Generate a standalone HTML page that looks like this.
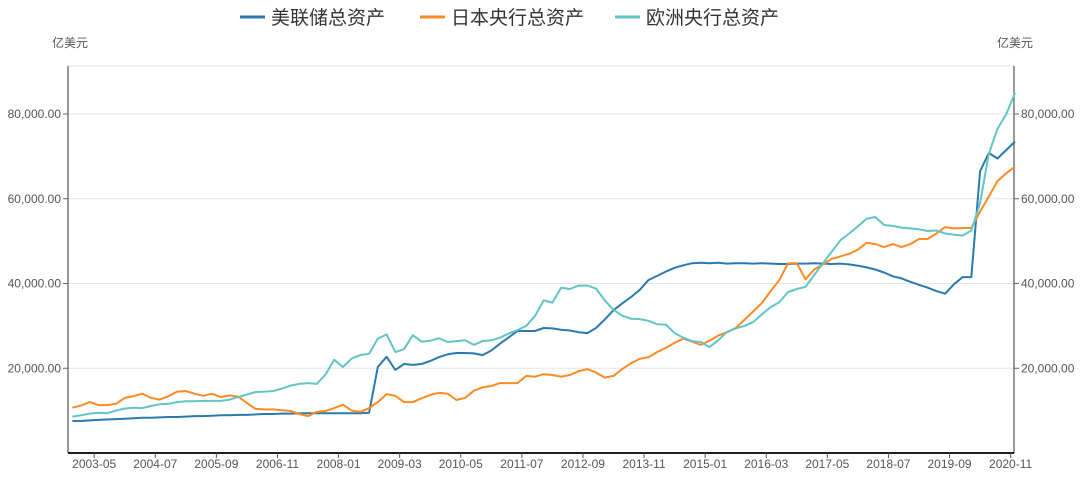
<!DOCTYPE html>
<html><head><meta charset="utf-8"><style>
body{margin:0;background:#fff;font-family:"Liberation Sans","Noto Sans CJK SC",sans-serif;}
svg text{font-family:"Liberation Sans","Noto Sans CJK SC",sans-serif;}
</style></head><body>
<svg id="chart" width="1080" height="476" viewBox="0 0 1080 476" xmlns="http://www.w3.org/2000/svg">
<g id="legend"></g>
<text x="52" y="47" font-size="12" fill="#555">亿美元</text>
<text x="997" y="47" font-size="12" fill="#555">亿美元</text>
<g id="grid"></g>
<g id="axes"></g>
<g id="series"></g>
</svg>
<script>
const categories = [];
for (let y = 2002, m = 12; categories.length < 109; ) {
  categories.push(y + '-' + String(m).padStart(2, '0'));
  m += 2; if (m > 12) { m -= 12; y++; }
}
const seriesNames = ['美联储总资产', '日本央行总资产', '欧洲央行总资产'];
const seriesColors = ['#2a7aae', '#fb8b24', '#62c4c6'];
const fedValues = [7550,7550,7700,7800,7900,8000,8100,8200,8300,8300,8400,8500,8500,8600,8700,8700,8800,8900,8900,9000,9000,9100,9200,9200,9300,9300,9400,9400,9400,9400,9400,9400,9400,9400,
9500,20300,22700,19600,21000,20800,21000,21700,22600,23300,23600,23600,23500,23100,24200,25800,27300,28800,28800,28800,29500,29400,29100,28900,28500,28300,29500,31500,33700,35300,36800,38500,40800,41800,42800,43700,44300,44800,
44900,44800,44900,44700,44800,44800,44700,44800,44700,44600,44600,44700,44700,44800,44700,44600,
44700,44500,44200,43800,43300,42600,41700,41200,40400,39700,39000,38200,37600,39800,41500,41500,66500,70800,69500,71500,73500];
const bojValues = [10700,11200,12000,11300,11300,11600,13000,13400,14000,13000,12600,13400,14500,14600,14000,13500,14000,13200,13600,13300,11800,10400,10300,10300,10100,9900,9200,8700,9700,9900,10600,11400,10000,9700,
10600,12000,13900,13500,12000,12000,12900,13700,14200,14000,12500,13000,14700,15500,15800,16500,16500,16500,18200,18000,18600,18400,18000,18400,19300,19800,19000,17800,18200,19800,21200,22200,22600,23800,24800,26000,27000,26300,
25500,26500,27700,28500,29500,31400,33400,35400,38200,40800,44800,44800,41000,43300,44500,45800,
46400,47000,48000,49600,49300,48600,49300,48600,49300,50500,50500,51800,53300,53000,53100,53100,57000,60500,64200,66000,67600];
const ecbValues = [8600,8900,9300,9500,9400,10000,10500,10700,10600,11100,11500,11600,12000,12200,12200,12300,12300,12300,12600,13200,13800,14400,14500,14600,15200,15900,16300,16500,16300,18500,22000,20300,22300,23100,
23400,27000,28000,23800,24500,27800,26300,26500,27100,26200,26400,26600,25500,26400,26600,27200,28200,29000,30000,32300,36000,35500,39000,38700,39500,39500,38800,36000,33800,32400,31700,31600,31200,30400,30300,28300,27200,26400,
26200,25000,26600,28600,29400,30000,30900,32700,34400,35600,38000,38700,39200,42000,44800,47500,
50200,51800,53500,55300,55700,53800,53600,53200,53000,52800,52400,52500,51800,51500,51300,52500,59000,70600,76500,80000,85000];
const yTicks = [20000, 40000, 60000, 80000];
const xTickLabels = ['2003-05','2004-07','2005-09','2006-11','2008-01','2009-03','2010-05','2011-07','2012-09','2013-11','2015-01','2016-03','2017-05','2018-07','2019-09','2020-11'];

const NS = 'http://www.w3.org/2000/svg';
const L = 68, R = 1014, B = 453, T = 66;
const pxPerMonth = 4.364;
function monthIndex(s){ const [y,m] = s.split('-').map(Number); return (y-2002)*12 + (m-11); }
function xScale(s){ return L + monthIndex(s)*pxPerMonth; }
function yScale(v){ return B - v/20000*84.75; }
function mk(tag, attrs, parent){ const e = document.createElementNS(NS, tag); for (const k in attrs) e.setAttribute(k, attrs[k]); parent.appendChild(e); return e; }
const fmt = v => v.toLocaleString('en-US',{minimumFractionDigits:2,maximumFractionDigits:2});

const grid = document.getElementById('grid');
const axes = document.getElementById('axes');
mk('line',{x1:L,x2:R,y1:T,y2:T,stroke:'#e6e6e6'},grid);
yTicks.forEach(v => {
  const y = yScale(v);
  const g = mk('line',{x1:L,x2:R,y1:y,y2:y,stroke:'#e6e6e6'},grid);
  
  
  mk('line',{x1:L-5,x2:L,y1:y,y2:y,stroke:'#666'},axes);
  mk('line',{x1:R,x2:R+5,y1:y,y2:y,stroke:'#666'},axes);
  const t1 = mk('text',{x:L-7,y:y+4,'text-anchor':'end','font-size':12,fill:'#555'},axes);
  t1.textContent = fmt(v);
  
  
  const t2 = mk('text',{x:R+7,y:y+4,'font-size':12,fill:'#555'},axes);
  t2.textContent = fmt(v);
  
  
});
mk('line',{x1:L,x2:L,y1:T,y2:B,stroke:'#555','stroke-width':1.2},axes);
mk('line',{x1:R,x2:R,y1:T,y2:B,stroke:'#555','stroke-width':1.2},axes);
mk('line',{x1:L,x2:R,y1:B,y2:B,stroke:'#2b1a1a','stroke-width':2},axes);
xTickLabels.forEach(s => {
  const x = xScale(s);
  mk('line',{x1:x,x2:x,y1:B,y2:B+5,stroke:'#555'},axes);
  const t = mk('text',{x:x,y:B+15,'text-anchor':'middle','font-size':12,fill:'#555'},axes);
  t.textContent = s;
  
  
});

const seriesEl = document.getElementById('series');
[fedValues, bojValues, ecbValues].forEach((vals, i) => {
  const n = Math.min(vals.length, categories.length);
  let d = '';
  for (let k = 0; k < n; k++) d += (k ? 'L' : 'M') + xScale(categories[k]).toFixed(1) + ',' + yScale(vals[k]).toFixed(1);
  const p = mk('path',{d:d,fill:'none',stroke:seriesColors[i],'stroke-width':2,'stroke-linejoin':'round'},seriesEl);
  
  
});

const legend = document.getElementById('legend');
const legendX = [240, 420, 615];
seriesNames.forEach((name, i) => {
  const g = mk('g',{},legend);
  
  
  mk('line',{x1:legendX[i],x2:legendX[i]+25,y1:17,y2:17,stroke:seriesColors[i],'stroke-width':3},g);
  const t = mk('text',{x:legendX[i]+31,y:24,'font-size':19,fill:'#333'},g);
  t.textContent = name;
});
</script>
</body></html>
